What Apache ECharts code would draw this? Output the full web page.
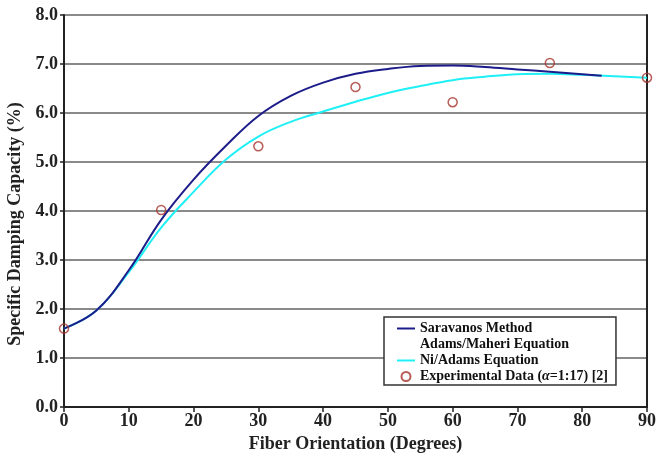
<!DOCTYPE html>
<html><head><meta charset="utf-8">
<script src="https://cdn.jsdelivr.net/npm/echarts@6/dist/echarts.min.js"></script>
<style>html,body{margin:0;padding:0;background:#fff}#c{width:656px;height:453px}</style>
</head><body><div id="c"></div>
<script>
const saravanosX = [0, 5, 10, 15, 20, 25, 30, 35, 40, 45, 50, 55, 60, 65, 70, 75, 80, 83];
const saravanosY = [1.60, 1.97, 2.79, 3.82, 4.64, 5.33, 5.94, 6.35, 6.62, 6.80, 6.90, 6.96, 6.97, 6.94, 6.89, 6.84, 6.79, 6.76];
const niAdamsX = [0, 5, 10, 15, 20, 25, 30, 35, 40, 45, 50, 55, 60, 65, 70, 75, 80, 85, 90];
const niAdamsY = [1.60, 1.97, 2.75, 3.66, 4.39, 5.05, 5.52, 5.82, 6.03, 6.23, 6.41, 6.55, 6.67, 6.74, 6.79, 6.80, 6.78, 6.75, 6.72];
const expX = [0, 15, 30, 45, 60, 75, 90];
const expY = [1.60, 4.02, 5.32, 6.53, 6.22, 7.02, 6.72];
const yTicks = [0, 1, 2, 3, 4, 5, 6, 7, 8];
const xTicks = [0, 10, 20, 30, 40, 50, 60, 70, 80, 90];
const seriesNames = ['Saravanos Method', 'Adams/Maheri Equation', 'Ni/Adams Equation', 'Experimental Data (α=1:17) [2]'];

const FONT = 'Liberation Serif';
const zip = (xs, ys) => xs.map((x, i) => [x, ys[i]]);

const chart = echarts.init(document.getElementById('c'));
chart.setOption({
  backgroundColor: '#fff',
  animation: false,
  grid: {left: 64, right: 9, top: 15, bottom: 46, containLabel: false, outerBoundsMode: 'none'},
  xAxis: {
    type: 'value', min: xTicks[0], max: xTicks[xTicks.length - 1], interval: 10,
    name: 'Fiber Orientation (Degrees)', nameLocation: 'middle', nameGap: 24,
    nameTextStyle: {fontFamily: FONT, fontWeight: 'bold', fontSize: 18, color: '#222'},
    axisLine: {show: true, onZero: false, lineStyle: {color: '#222', width: 2}},
    axisTick: {show: true, length: 5, lineStyle: {color: '#222', width: 1.5}},
    axisLabel: {fontFamily: FONT, fontWeight: 'bold', fontSize: 18, color: '#222', margin: 5},
    splitLine: {show: false}
  },
  yAxis: [{
    type: 'value', min: yTicks[0], max: yTicks[yTicks.length - 1], interval: 1,
    name: 'Specific Damping Capacity (%)', nameLocation: 'middle', nameGap: 36,
    nameTextStyle: {fontFamily: FONT, fontWeight: 'bold', fontSize: 18, color: '#222', padding: [0, 26, 0, 0]},
    axisLine: {show: true, lineStyle: {color: '#222', width: 2}},
    axisTick: {show: true, length: 4, lineStyle: {color: '#222', width: 1.5}},
    axisLabel: {fontFamily: FONT, fontWeight: 'bold', fontSize: 18, color: '#222', margin: 6,
      formatter: v => v.toFixed(1)},
    splitLine: {show: true, lineStyle: {color: '#8a8a8a', width: 2}}
  }, {
    type: 'value', min: 0, max: 8, interval: 1, position: 'right',
    axisLine: {show: true, lineStyle: {color: '#222', width: 2}},
    axisTick: {show: false}, axisLabel: {show: false}, splitLine: {show: false}
  }],
  legend: {
    orient: 'vertical', left: 384, top: 317,
    backgroundColor: '#fff', borderColor: '#333', borderWidth: 1.5, borderRadius: 0,
    padding: [4, 8, 1, 12], itemGap: 1, itemWidth: 18, itemHeight: 9,
    textStyle: {fontFamily: FONT, fontWeight: 'bold', fontSize: 14, color: '#111', lineHeight: 15,
      rich: {i: {fontFamily: FONT, fontWeight: 'bold', fontStyle: 'italic', fontSize: 14, color: '#111', lineHeight: 15}}},
    formatter: name => name.replace('α', '{i|α}'),
    data: [
      {name: seriesNames[0], itemStyle: {opacity: 0}},
      {name: seriesNames[1], itemStyle: {opacity: 0}, lineStyle: {opacity: 0}},
      {name: seriesNames[2], itemStyle: {opacity: 0}},
      {name: seriesNames[3]}
    ]
  },
  series: [
    {name: seriesNames[0], type: 'line', smooth: 0.4, symbol: 'none',
      data: zip(saravanosX, saravanosY), lineStyle: {color: '#1c1c8a', width: 2}, itemStyle: {color: '#1c1c8a'}, z: 3},
    {name: seriesNames[1], type: 'line', symbol: 'none', data: [],
      lineStyle: {color: '#fff', width: 0}, itemStyle: {color: '#fff'}},
    {name: seriesNames[2], type: 'line', smooth: 0.4, symbol: 'none',
      data: zip(niAdamsX, niAdamsY), lineStyle: {color: '#1ff0f5', width: 2}, itemStyle: {color: '#1ff0f5'}, z: 2},
    {name: seriesNames[3], type: 'scatter', symbol: 'circle', symbolSize: 9,
      data: zip(expX, expY),
      itemStyle: {color: 'rgba(255,255,255,0)', borderColor: '#a5332c', borderWidth: 1.5}, z: 4}
  ]
});
</script></body></html>
